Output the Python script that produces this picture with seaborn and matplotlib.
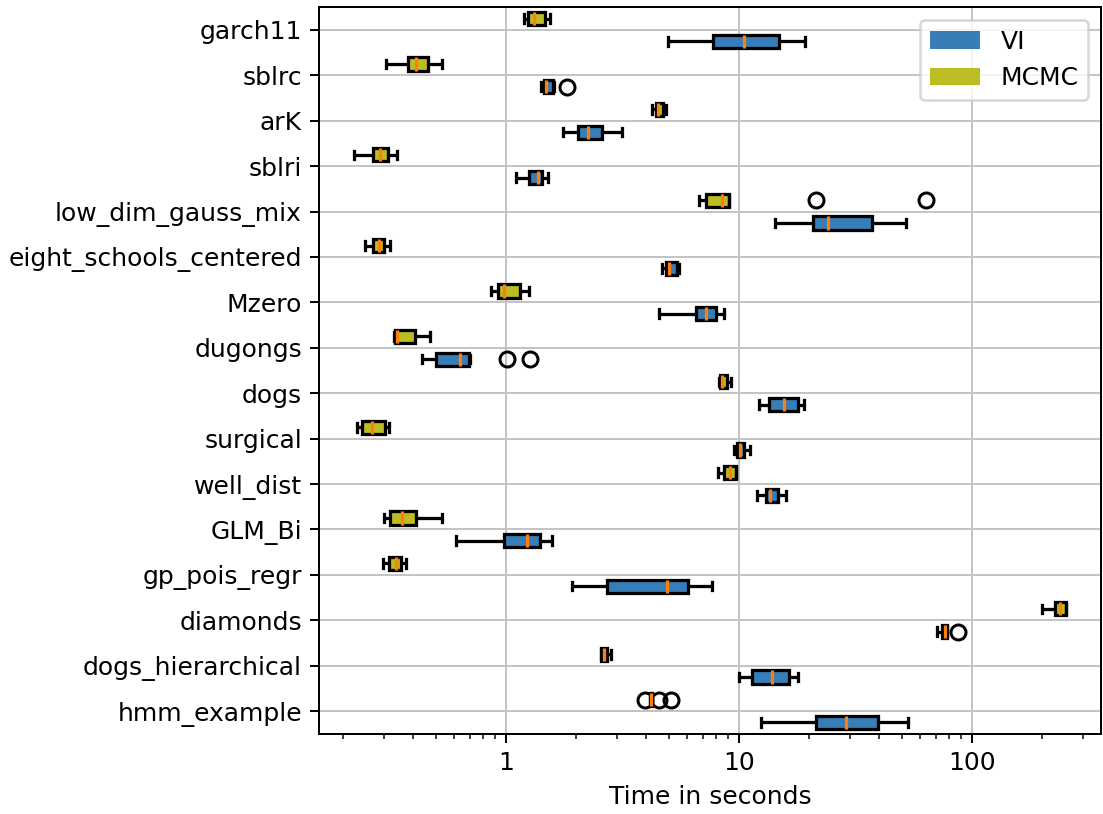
import pandas as pd
import matplotlib
matplotlib.use("Agg")
import matplotlib.pyplot as plt
import seaborn as sns
from matplotlib.patches import Patch
from matplotlib.ticker import ScalarFormatter, NullFormatter

# models, top to bottom
models = ["garch11", "sblrc", "arK", "sblri", "low_dim_gauss_mix",
          "eight_schools_centered", "Mzero", "dugongs", "dogs", "surgical",
          "well_dist", "GLM_Bi", "gp_pois_regr", "diamonds",
          "dogs_hierarchical", "hmm_example"]

# MCMC box summaries (seconds)
mcmc_lo = [1.20, 0.305, 4.22, 0.222, 6.77, 0.247, 0.86, 0.330, 8.22, 0.230,
           8.17, 0.298, 0.296, 200.0, 2.55, 4.15]
mcmc_q1 = [1.247, 0.379, 4.40, 0.268, 7.23, 0.269, 0.924, 0.3325, 8.30, 0.2414,
           8.66, 0.3175, 0.3151, 227.5, 2.57, 4.15]
mcmc_med = [1.323, 0.409, 4.51, 0.2875, 8.50, 0.2847, 0.977, 0.339, 8.50, 0.2657,
            9.14, 0.3586, 0.3379, 240.5, 2.636, 4.18]
mcmc_q3 = [1.466, 0.462, 4.74, 0.311, 9.05, 0.300, 1.152, 0.4076, 8.87, 0.3031,
           9.72, 0.4118, 0.3551, 253.6, 2.71, 4.22]
mcmc_hi = [1.549, 0.529, 4.87, 0.339, 9.05, 0.3175, 1.255, 0.4716, 9.26, 0.3133,
           9.75, 0.5326, 0.3709, 254.0, 2.818, 4.22]
mcmc_out = {"low_dim_gauss_mix": [21.5, 63.5], "hmm_example": [3.955, 4.54, 5.10]}

# VI box summaries (seconds)
vi_lo = [4.95, 1.41, 1.752, 1.10, 14.26, 4.69, 4.53, 0.4344, 12.18, 9.56,
         12.01, 0.608, 1.927, 71.3, 10.02, 12.50]
vi_q1 = [7.75, 1.45, 2.032, 1.252, 20.83, 4.88, 6.53, 0.4989, 13.44, 9.85,
         13.05, 0.983, 2.708, 74.8, 11.43, 21.46]
vi_med = [10.53, 1.49, 2.244, 1.372, 24.24, 5.03, 7.23, 0.6363, 15.59, 10.12,
          13.57, 1.231, 4.90, 76.6, 13.85, 28.87]
vi_q3 = [14.84, 1.59, 2.593, 1.428, 37.24, 5.41, 8.01, 0.6935, 17.91, 10.53,
         14.78, 1.404, 6.03, 78.4, 16.43, 39.76]
vi_hi = [19.19, 1.60, 3.16, 1.519, 52.27, 5.55, 8.61, 0.70, 19.06, 11.14,
         15.95, 1.581, 7.67, 78.4, 18.02, 53.47]
vi_out = {"sblrc": [1.82], "dugongs": [1.007, 1.268], "diamonds": [87.4]}

colors = {"VI": "#377eb8", "MCMC": "#bcbd22"}

# long table whose quartiles reproduce the summaries above
rows = []
summaries = {
    "MCMC": (mcmc_lo, mcmc_q1, mcmc_med, mcmc_q3, mcmc_hi, mcmc_out),
    "VI": (vi_lo, vi_q1, vi_med, vi_q3, vi_hi, vi_out),
}
for method, (lo, q1, med, q3, hi, out) in summaries.items():
    for i, m in enumerate(models):
        vals = [lo[i]] + [q1[i]] * 20 + [med[i]] * 20 + [q3[i]] * 20 + [hi[i]]
        vals += out.get(m, [])
        rows += [(m, method, v) for v in vals]
df = pd.DataFrame(rows, columns=["model", "method", "time"])

fig, ax = plt.subplots(figsize=(1103 / 180, 814 / 180), dpi=180)
fig.subplots_adjust(left=319.5 / 1103, right=1101 / 1103,
                    top=1 - 7.3 / 814, bottom=1 - 733.7 / 814)

sns.boxplot(data=df, x="time", y="model", hue="method", order=models,
            hue_order=["MCMC", "VI"], orient="y", palette=colors,
            saturation=1, width=1.0, gap=0.42, linecolor="black",
            linewidth=1.3, fliersize=6, legend=False, ax=ax,
            medianprops=dict(color="#ff7f0e", linewidth=1.3),
            flierprops=dict(marker="o", markerfacecolor="none",
                            markeredgecolor="black", markeredgewidth=1.2),
            capwidths=0.19)

ax.set_xscale("log")
ax.set_xlim(0.158, 359.6)
ax.set_ylim(15.5, -0.5)
ax.xaxis.set_major_formatter(ScalarFormatter())
ax.xaxis.set_minor_formatter(NullFormatter())
ax.set_axisbelow(True)
ax.grid(True, which="major", axis="both", color="#c4c4c4")
ax.set_xlabel("Time in seconds")
ax.set_ylabel("")

handles = [Patch(facecolor=colors["VI"], label="VI"),
           Patch(facecolor=colors["MCMC"], label="MCMC")]
ax.legend(handles=handles, loc="upper right")

plt.savefig("out.png", dpi=180)
plt.close()
